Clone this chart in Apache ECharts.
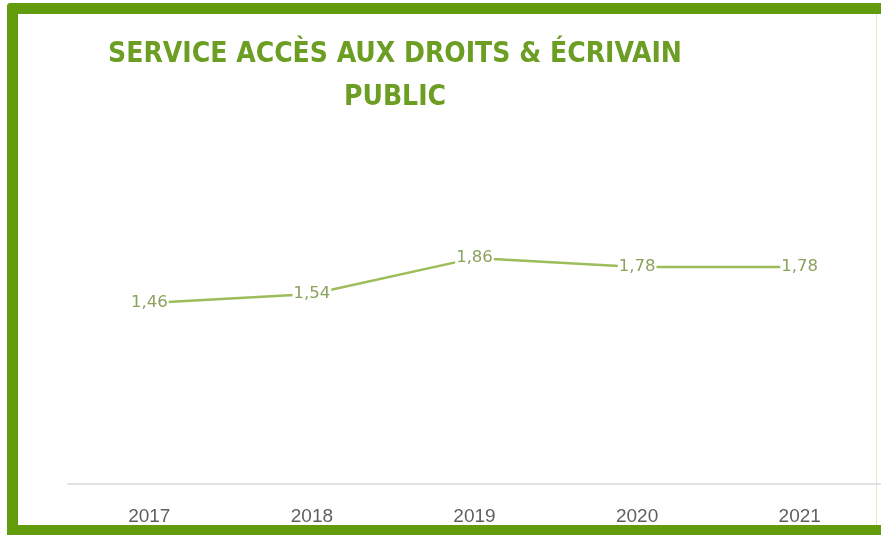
<!DOCTYPE html>
<html><head><meta charset="utf-8">
<script src="https://cdn.jsdelivr.net/npm/echarts@6/dist/echarts.min.js"></script>
<style>html,body{margin:0;padding:0;background:#fff}#c{width:881px;height:535px}</style>
</head><body><div id="c"></div>
<script>
const titleLines = ['SERVICE ACCÈS AUX DROITS & ÉCRIVAIN', 'PUBLIC'];
const years = ['2017', '2018', '2019', '2020', '2021'];
const values = [1.46, 1.54, 1.86, 1.78, 1.78];
const valueLabels = ['1,46', '1,54', '1,86', '1,78', '1,78'];

const chart = echarts.init(document.getElementById('c'), null, {renderer: 'canvas'});
const green = '#629c0c';
chart.setOption({
  animation: false,
  backgroundColor: '#fff',
  title: {
    text: titleLines.join('\n'),
    left: 390, top: 28, textAlign: 'center',
    textStyle: {color: '#6b9e22', fontSize: 28, fontWeight: 'bold', fontFamily: 'Liberation Sans Narrow, DejaVu Sans Condensed, sans-serif', lineHeight: 43}
  },
  grid: {left: 68, width: 816, top: 130, bottom: 51, containLabel: false},
  xAxis: {
    type: 'category', data: years, boundaryGap: true,
    axisLine: {onZero: false, lineStyle: {color: '#d9d9d9', width: 1.5}},
    axisTick: {show: false},
    axisLabel: {color: '#5f5f5f', fontSize: 19, margin: 23, fontFamily: 'Liberation Sans, Arial, sans-serif'}
  },
  yAxis: {type: 'value', min: -0.15, max: 3.0, show: false, splitLine: {show: false}},
  series: [{
    type: 'line', data: values, symbol: 'circle', symbolSize: 2, showSymbol: true, z: 2,
    itemStyle: {color: 'rgba(157,188,90,0)', borderWidth: 0},
    lineStyle: {color: '#9dbc5a', width: 2.5},
    labelLayout: {hideOverlap: false},
    label: {
      show: true, position: 'inside', color: '#8aa35c', fontSize: 16.5,
      fontFamily: 'DejaVu Sans, Verdana, sans-serif',
      backgroundColor: '#fff', padding: [1, 1],
      formatter: p => valueLabels[p.dataIndex]
    }
  }],
  graphic: [
    {type: 'rect', shape: {x: 7, y: 3, width: 874, height: 11, r: [4, 0, 0, 0]}, style: {fill: green}},
    {type: 'rect', shape: {x: 7, y: 3, width: 11, height: 532, r: [4, 0, 0, 0]}, style: {fill: green}},
    {type: 'rect', shape: {x: 7, y: 525, width: 874, height: 10}, style: {fill: green}},
    {type: 'rect', shape: {x: 876, y: 14, width: 1, height: 511}, style: {fill: '#dfe9d0'}}
  ]
});
</script></body></html>
